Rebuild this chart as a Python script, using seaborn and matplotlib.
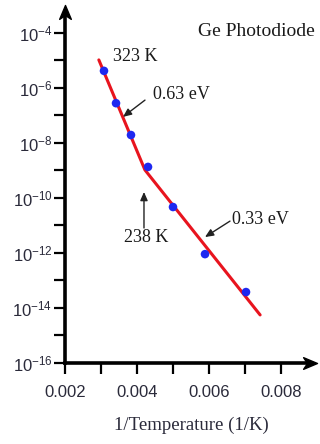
import matplotlib
matplotlib.use("Agg")
import matplotlib.pyplot as plt
import seaborn as sns
import pandas as pd
import numpy as np
from matplotlib.path import Path

# ---- data ----
inv_temp = [0.003083, 0.003417, 0.003833, 0.004306, 0.005000, 0.005889, 0.007028]
current = [4.2e-6, 2.8e-7, 1.95e-8, 1.35e-9, 4.7e-11, 9.1e-13, 3.8e-14]
fit_x = [0.00294, 0.00422, 0.00742]
fit_y = [1.05e-5, 1.05e-9, 5.6e-15]
xtick_vals = [0.002, 0.003, 0.004, 0.005, 0.006, 0.007, 0.008]
xtick_labels = ["0.002", "", "0.004", "", "0.006", "", "0.008"]
ytick_exps = [-16, -15, -14, -13, -12, -11, -10, -9, -8, -7, -6, -5, -4]

sns.set_style("ticks")
plt.rcParams['font.family'] = ['Liberation Sans', 'DejaVu Sans']
plt.rcParams['mathtext.fontset'] = 'custom'
plt.rcParams['mathtext.rm'] = 'Liberation Sans'
plt.rcParams['mathtext.it'] = 'Liberation Sans'

fig = plt.figure(figsize=(3.2, 4.44), dpi=100)
ax = fig.add_axes([65/320, 1-363/444, 252/320, 357.5/444])

pts = pd.DataFrame({"x": inv_temp, "y": current})
fit = pd.DataFrame({"x": fit_x, "y": fit_y})
sns.lineplot(data=fit, x="x", y="y", ax=ax, color="#e8141e", linewidth=2.2, sort=False, zorder=2)
sns.scatterplot(data=pts, x="x", y="y", ax=ax, color="#1e28f0", s=38, edgecolor="none", zorder=3)

ax.set_yscale("log")
ax.set_xlim(0.002, 0.009)
ax.set_ylim(1e-16, 1e-3)

ax.set_xticks(xtick_vals)
ax.set_xticklabels(xtick_labels)
ax.set_yticks([10.0**e for e in ytick_exps])
ax.set_yticklabels([r"$10^{%d}$" % e if e % 2 == 0 else "" for e in ytick_exps])
ax.yaxis.set_minor_locator(matplotlib.ticker.NullLocator())
ax.tick_params(axis="both", which="major", direction="out", length=8, width=1.6,
               color="black", labelsize=12, labelcolor="#2a2a3a",
               bottom=True, left=True, top=False, right=False)
ax.tick_params(axis="x", pad=8)
ax.tick_params(axis="y", pad=1)

for s in ["top", "right"]:
    ax.spines[s].set_visible(False)
for s in ["left", "bottom"]:
    ax.spines[s].set_linewidth(2.6)
    ax.spines[s].set_color("black")
ax.spines["left"].set_bounds(1e-16, 10**-3.3)
ax.spines["bottom"].set_bounds(0.002, 0.0087)

up = Path([(0, 0), (0.42, -1), (0, -0.72), (-0.42, -1), (0, 0)],
          [Path.MOVETO, Path.LINETO, Path.LINETO, Path.LINETO, Path.CLOSEPOLY])
right = Path([(0, 0), (-1, 0.42), (-0.72, 0), (-1, -0.42), (0, 0)],
             [Path.MOVETO, Path.LINETO, Path.LINETO, Path.LINETO, Path.CLOSEPOLY])
ax.plot([0], [1], marker=up, markersize=20, color="black", transform=ax.transAxes, clip_on=False)
ax.plot([1], [0], marker=right, markersize=20, color="black", transform=ax.transAxes, clip_on=False)

ax.set_xlabel("1/Temperature (1/K)", fontsize=13.5, family=['Liberation Serif'], color="#2a2a3a", labelpad=12)
ax.set_ylabel("")

serif = ['Liberation Serif']
tc = "#1a1a1a"
ax.text(0.007306, 10**-3.96, "Ge Photodiode", fontsize=14, family=serif, ha="center", va="center", color=tc)
ax.text(0.003944, 10**-4.87, "323 K", fontsize=13, family=serif, ha="center", va="center", color=tc)
ax.text(0.004444, 10**-6.25, "0.63 eV", fontsize=13, family=serif, ha="left", va="center", color=tc)
ax.text(0.00425, 10**-11.42, "238 K", fontsize=13, family=serif, ha="center", va="center", color=tc)
ax.text(0.006639, 10**-10.8, "0.33 eV", fontsize=13, family=serif, ha="left", va="center", color=tc)

aprops = dict(arrowstyle="-|>,head_length=0.5,head_width=0.22", color="#222222", lw=1.0, shrinkA=0, shrinkB=0)
ax.annotate("", xy=(0.003611, 10**-7.05), xytext=(0.004222, 10**-6.44), arrowprops=aprops)
ax.annotate("", xy=(0.004194, 10**-9.78), xytext=(0.004194, 10**-11.09), arrowprops=aprops)
ax.annotate("", xy=(0.005889, 10**-11.42), xytext=(0.006583, 10**-10.84), arrowprops=aprops)

fig.savefig("out.png", dpi=100)
